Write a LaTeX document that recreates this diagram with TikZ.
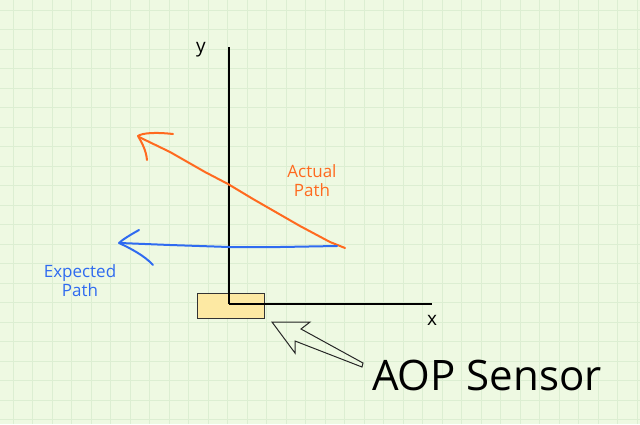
\documentclass[tikz,border=0pt]{standalone}
\usepackage{fontspec}
\setmainfont{Open Sans}

\definecolor{paper}{HTML}{EEF9E2}
\definecolor{gridline}{HTML}{DCEED2}
\definecolor{actualcol}{HTML}{FF6A1F}
\definecolor{expectedcol}{HTML}{2F6BF0}
\definecolor{sensorfill}{HTML}{FDE9A3}

\newcommand{\gridstep}{19.5}

\begin{document}
\begin{tikzpicture}[x=1pt,y=-1pt,
    penline/.style={line width=2pt,line cap=round,line join=round},
    axisline/.style={line width=1.8pt,black},
    pathlabel/.style={align=center,font=\fontsize{17}{19}\selectfont,inner sep=0pt},
    axislabel/.style={font=\fontsize{19}{20}\selectfont,inner sep=0pt},
    sensorbox/.style={draw=black!80,fill=sensorfill,line width=0.8pt,minimum width=67pt,minimum height=25pt,inner sep=0pt}]

\useasboundingbox (0,0) rectangle (640,424);

% draw paper grid
\fill[paper] (0,0) rectangle (640,424);
\foreach \k in {0,...,32}
    \draw[gridline,line width=0.8pt] (13+\gridstep*\k,0) -- ++(0,424);
\foreach \k in {0,...,21}
    \draw[gridline,line width=0.8pt] (0,10+\gridstep*\k) -- ++(640,0);

% draw sensor
\node[sensorbox] (sensor) at (230.5,305.5) {};

% draw axes
\coordinate (origin) at (229,304);
\draw[axisline] (origin) -- (229,47);
\draw[axisline] (origin) -- (432,304);
\node[axislabel] (ylabel) at (201,50) {y};
\node[axislabel] (xlabel) at (432,320) {x};

% draw actual path
\draw[penline,actualcol] (345,248) -- (330,242) -- (300,226) -- (253,199) -- (228,184)
    -- (205,172) -- (170,152) -- (139,137);
\draw[penline,actualcol] (173,134) .. controls (155,132) and (142,133) .. (138,136)
    .. controls (142,143) and (146,150) .. (147,160);
\node[pathlabel,text=actualcol] (actuallabel) at (312,181) {Actual\\Path};

% draw expected path
\draw[penline,expectedcol] (337,246) -- (280,247) -- (229,247) -- (170,245) -- (120,243);
\draw[penline,expectedcol] (139,230) .. controls (130,235) and (122,240) .. (119,243)
    .. controls (130,248) and (145,256) .. (153,265);
\node[pathlabel,text=expectedcol] (expectedlabel) at (80,281) {Expected\\Path};

% draw pointer to sensor
\draw[black!85,line width=1pt,line join=miter]
    (272,322) -- (310,322) -- (301,329) -- (363,363) -- (362,367)
    -- (295,341) -- (295,353) -- cycle;
\node[font=\fontsize{42}{44}\selectfont,inner sep=0pt] (sensorlabel) at (487,375) {AOP Sensor};

\end{tikzpicture}
\end{document}
